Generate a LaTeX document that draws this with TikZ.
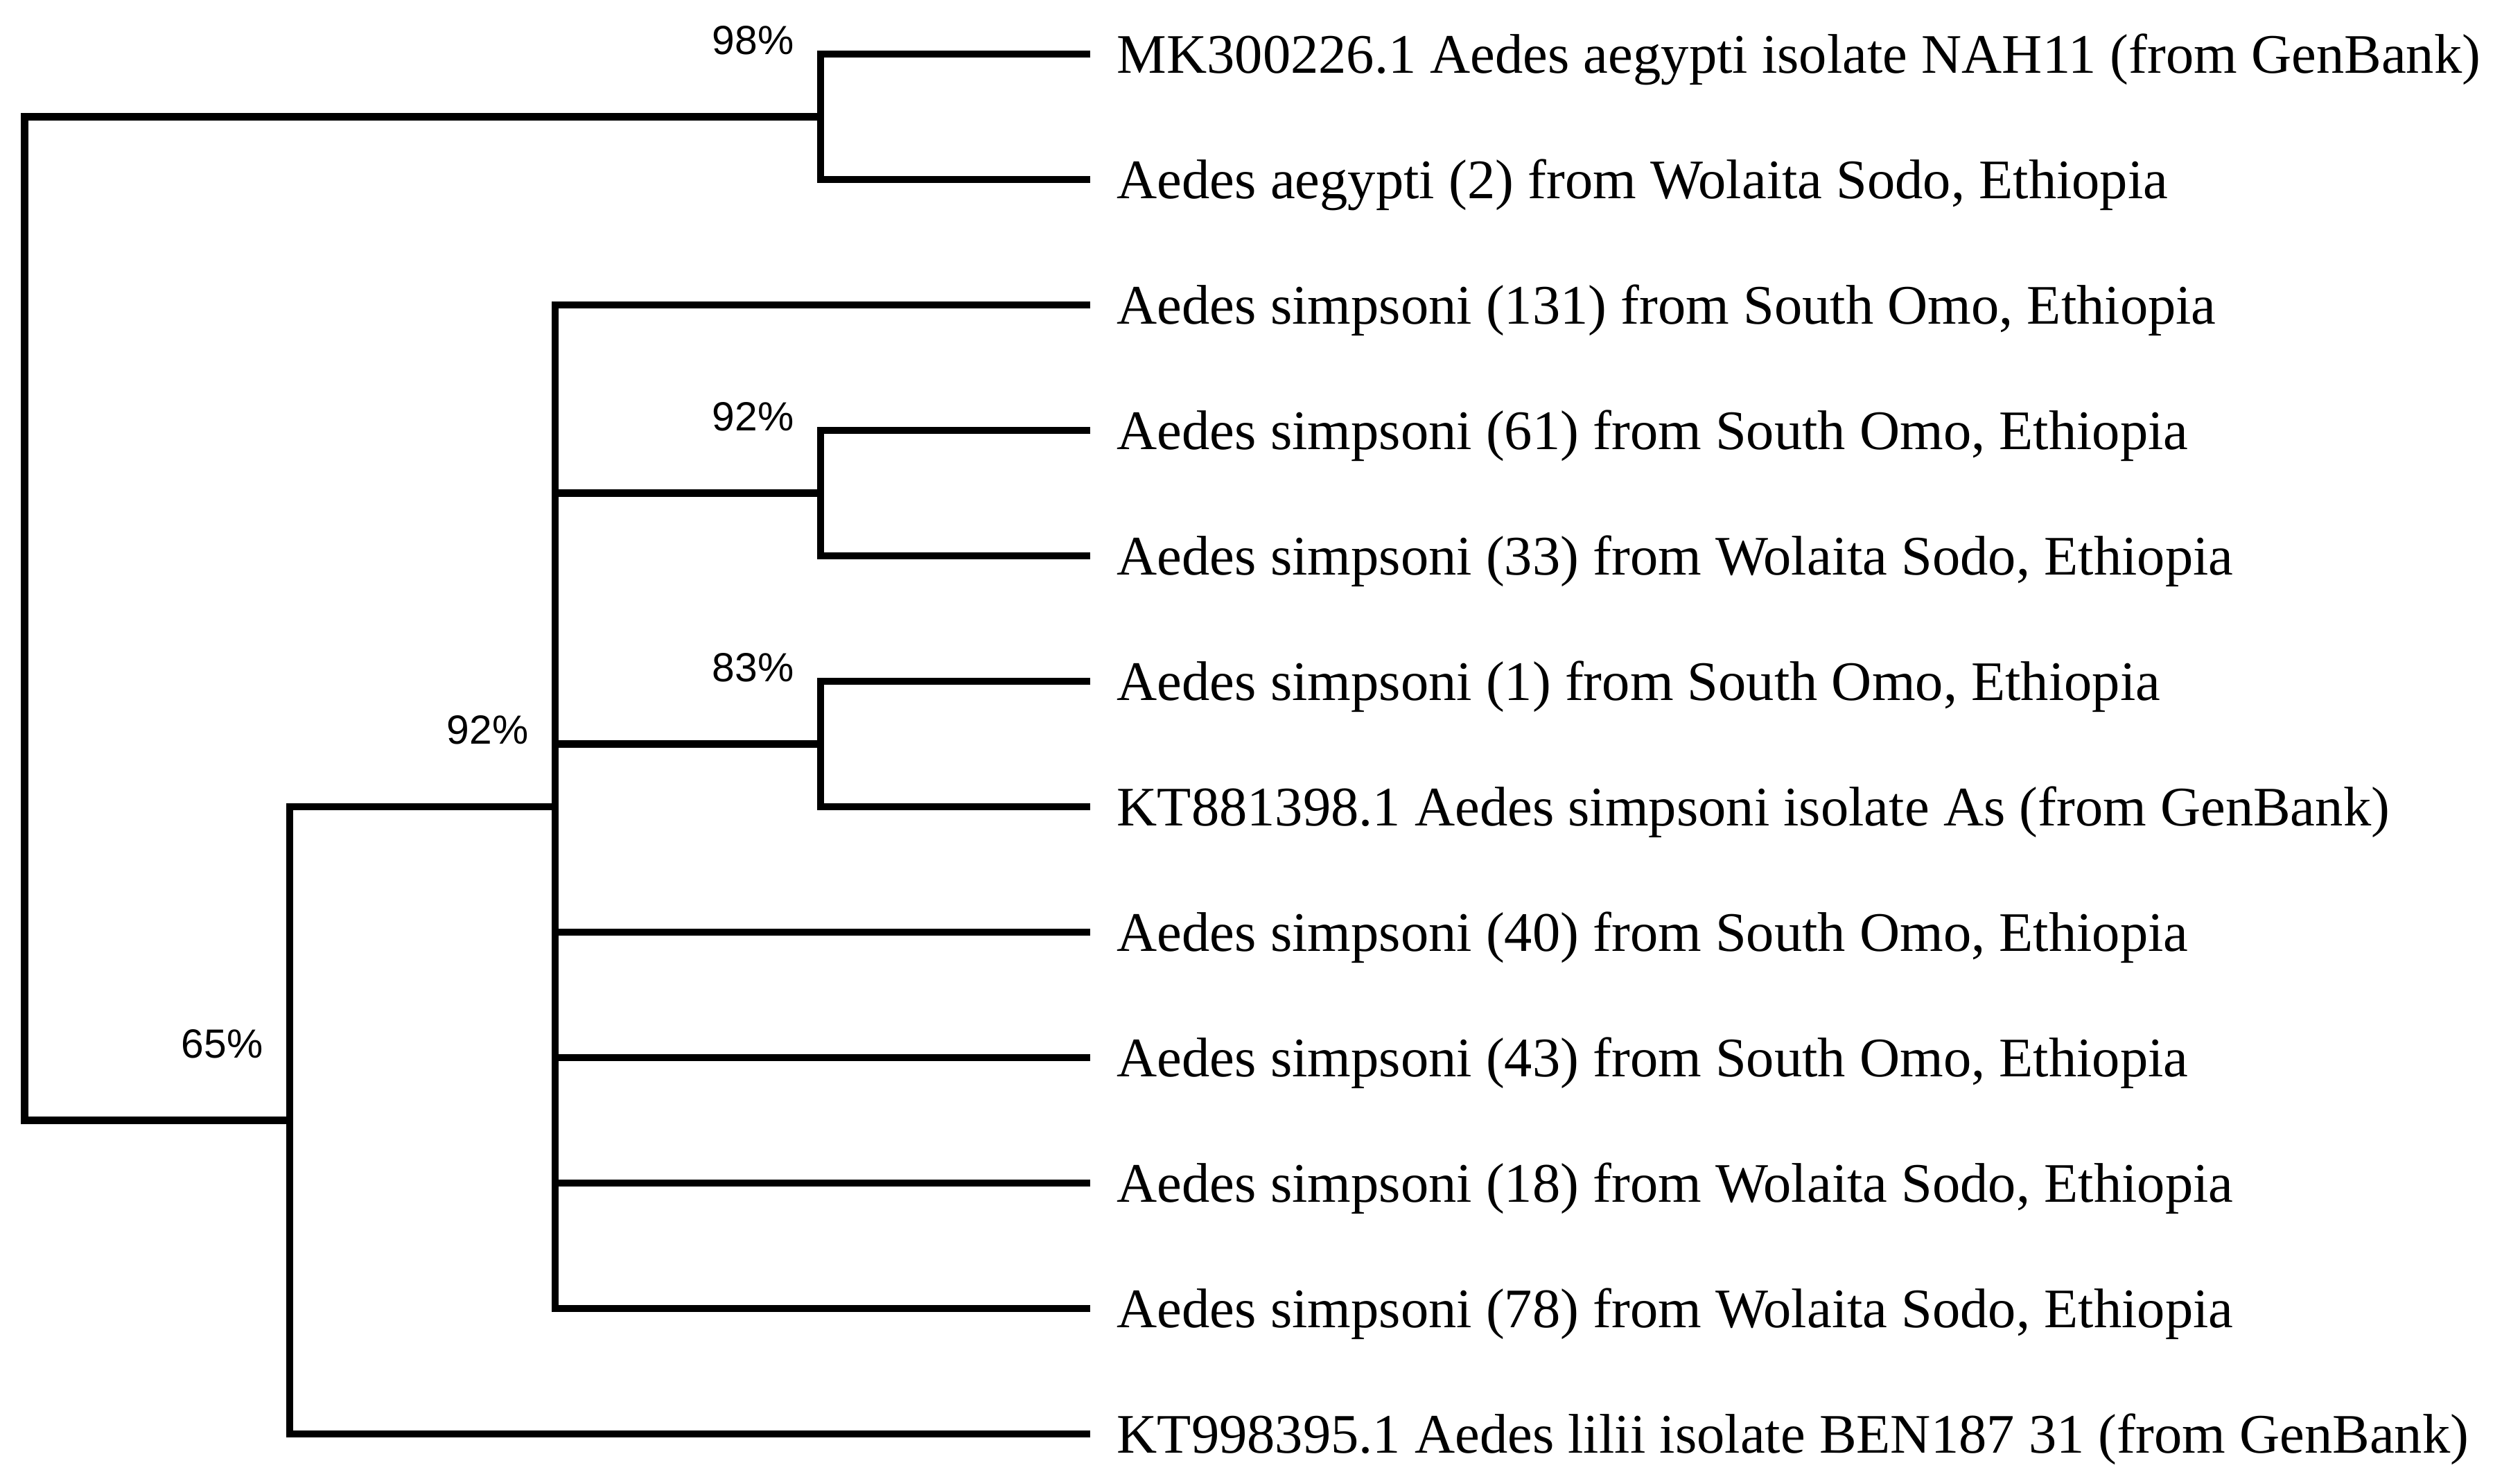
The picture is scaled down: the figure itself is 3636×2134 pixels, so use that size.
\documentclass[tikz,border=0pt]{standalone}
\usepackage{fontspec}
\setmainfont{Liberation Serif}
\newfontfamily\bootfont{Liberation Sans}
\usepackage{tikz}
\tikzset{branch/.style = {line width=3pt, line join=miter}}

\begin{document}
\begin{tikzpicture}[x=0.01cm,y=-0.01cm,
    leaf node/.style={anchor=base west,inner sep=0pt,xshift=0.38cm,yshift=-0.27cm,font=\fontsize{22.9}{28}\selectfont},
    boot node/.style={anchor=base east,inner sep=0pt,xshift=-0.38cm,yshift=0.9cm,font=\bootfont\fontsize{16.7}{20}\selectfont}]
    \useasboundingbox (0,0) rectangle (3636,2134);
    % tips and their names
    \foreach \i/\name in {0/{MK300226.1 Aedes aegypti isolate NAH11 (from GenBank)},
        1/{Aedes aegypti (2) from Wolaita Sodo, Ethiopia},
        2/{Aedes simpsoni (131) from South Omo, Ethiopia},
        3/{Aedes simpsoni (61) from South Omo, Ethiopia},
        4/{Aedes simpsoni (33) from Wolaita Sodo, Ethiopia},
        5/{Aedes simpsoni (1) from South Omo, Ethiopia},
        6/{KT881398.1 Aedes simpsoni isolate As (from GenBank)},
        7/{Aedes simpsoni (40) from South Omo, Ethiopia},
        8/{Aedes simpsoni (43) from South Omo, Ethiopia},
        9/{Aedes simpsoni (18) from Wolaita Sodo, Ethiopia},
        10/{Aedes simpsoni (78) from Wolaita Sodo, Ethiopia},
        11/{KT998395.1 Aedes lilii isolate BEN187 31 (from GenBank)}}
        {\coordinate (t\i) at (1573,{78+181*\i});
         \node[leaf node] (l\i) at (t\i) {\name};}
    % inner nodes
    \coordinate (A) at (1184,168.5);
    \coordinate (D) at (1184,711.5);
    \coordinate (E) at (1184,1073.5);
    \coordinate (B) at (801,1164);
    \coordinate (C) at (418,1616.5);
    \coordinate (R) at (35.5,892.5);
    \draw[branch] (A) -| (R) |- (C);
    \draw[branch] (t0) -| (A) |- (t1);
    \draw[branch] (B) -| (C) |- (t11);
    \draw[branch] (t2) -| (B) |- (t10);
    \draw[branch] (B) |- (D);
    \draw[branch] (B) |- (E);
    \draw[branch] (B) |- (t7);
    \draw[branch] (B) |- (t8);
    \draw[branch] (B) |- (t9);
    \draw[branch] (t3) -| (D) |- (t4);
    \draw[branch] (t5) -| (E) |- (t6);
    % support values
    \node[boot node] (bA) at (A) {98\%};
    \node[boot node] (bD) at (D) {92\%};
    \node[boot node] (bE) at (E) {83\%};
    \node[boot node] (bB) at (B) {92\%};
    \node[boot node] (bC) at (C) {65\%};
\end{tikzpicture}
\end{document}
